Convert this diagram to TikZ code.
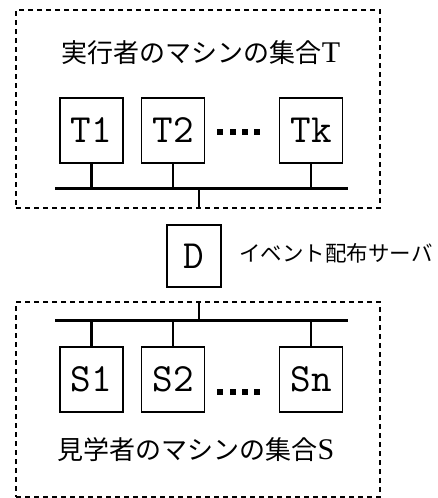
\documentclass[tikz,border=0pt]{standalone}
\usepackage{fontspec}
\setmainfont{Liberation Serif}
\newfontfamily\jp{Noto Sans CJK JP}
\newfontfamily\boxfont{Latin Modern Mono}
\begin{document}
\begin{tikzpicture}[x=1pt,y=-1pt,
  mach/.style={draw,line width=1.8pt,minimum width=63pt,minimum height=65pt,inner sep=0pt,
    font=\boxfont\fontsize{40}{40}\selectfont},
  grp/.style={draw,dash pattern=on 5pt off 4pt,line width=1.6pt,inner sep=0pt},
  bus/.style={line width=3pt},
  stub/.style={line width=2.6pt},
  ttl/.style={font=\jp\fontsize{26}{26}\selectfont,inner sep=0pt},
  dotsq/.style={fill=black,minimum size=6pt,inner sep=0pt}]
\useasboundingbox (0,0) rectangle (438,498);
% groups
\node[grp,minimum width=364pt,minimum height=198pt] (grpT) at (198,109) {};
\node[grp,minimum width=364pt,minimum height=195pt] (grpS) at (198,399.5) {};
% titles
\node[ttl] (titleT) at (201,53) {実行者のマシンの集合{\rmfamily\fontsize{30}{30}\selectfont T}};
\node[ttl] (titleS) at (196,450) {見学者のマシンの集合{\rmfamily\fontsize{30}{30}\selectfont S}};
% T machines
\node[mach] (t1) at (91.5,130.5) {T1};
\node[mach] (t2) at (173,130.5) {T2};
\node[mach] (tk) at (311,130.5) {Tk};
\foreach \i/\x in {1/220,2/232.5,3/245,4/257}
  \node[dotsq] (td\i) at (\x,132) {};
% T bus
\coordinate (busTL) at (55,188);
\coordinate (busTR) at (348,188);
\coordinate (tj) at (199,188);
\draw[bus] (busTL) -- (busTR);
\foreach \m in {t1,t2,tk} \draw[stub] (\m.south) -- (\m.south |- busTL);
\draw[stub] (tj) -- (tj |- grpT.south);
% D server
\node[mach,minimum width=54pt,minimum height=62pt] (D) at (194,256) {D};
\node[font=\jp\fontsize{21.5}{21.5}\selectfont,anchor=west,inner sep=0pt] (Dlabel) at (239,253) {イベント配布サーバ};
% S bus
\coordinate (busSL) at (55,320);
\coordinate (busSR) at (348,320);
\coordinate (sj) at (199,320);
\draw[bus] (busSL) -- (busSR);
\draw[stub] (sj) -- (sj |- grpS.north);
% S machines
\node[mach] (s1) at (91.5,379.5) {S1};
\node[mach] (s2) at (173,379.5) {S2};
\node[mach] (sn) at (311,379.5) {Sn};
\foreach \m in {s1,s2,sn} \draw[stub] (\m.north) -- (\m.north |- busSL);
\foreach \i/\x in {1/220,2/232.5,3/245,4/257}
  \node[dotsq] (sd\i) at (\x,392) {};
\end{tikzpicture}
\end{document}
